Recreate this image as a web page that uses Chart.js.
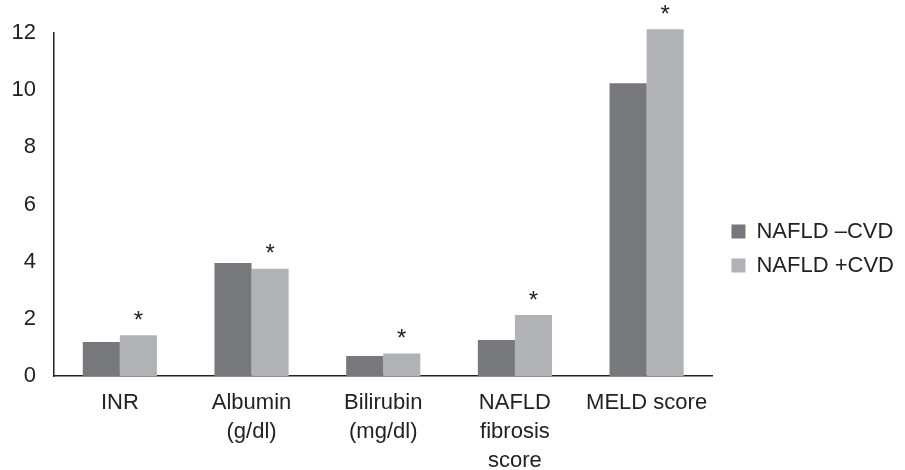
<!DOCTYPE html>
<html>
<head>
<meta charset="utf-8">
<script src="https://cdn.jsdelivr.net/npm/chart.js@4/dist/chart.umd.min.js"></script>
<style>
  html, body { margin: 0; padding: 0; background: #fff; }
  #wrap { width: 905px; height: 470px; position: relative; }
</style>
</head>
<body>
<div id="wrap"><canvas id="c" width="905" height="470"></canvas></div>
<script>
const categories = [['INR'], ['Albumin', '(g/dl)'], ['Bilirubin', '(mg/dl)'], ['NAFLD', 'fibrosis', 'score'], ['MELD score']];
const seriesNames = ['NAFLD \u2013CVD', 'NAFLD +CVD'];
const nafldNoCVD = [1.19, 3.95, 0.70, 1.26, 10.24];
const nafldCVD = [1.43, 3.75, 0.79, 2.13, 12.13];
const significant = [true, true, true, true, true];
const yTicks = [0, 2, 4, 6, 8, 10, 12];

const FONT = '"Liberation Sans", Arial, Helvetica, sans-serif';
const TEXT = '#222222';

const starPlugin = {
  id: 'stars',
  afterDatasetsDraw(chart) {
    const meta = chart.getDatasetMeta(1);
    const ctx = chart.ctx;
    ctx.save();
    ctx.fillStyle = TEXT;
    ctx.font = '24px ' + FONT;
    ctx.textAlign = 'center';
    ctx.textBaseline = 'middle';
    meta.data.forEach((bar, i) => {
      if (significant[i]) ctx.fillText('*', bar.x, bar.y - 14);
    });
    ctx.restore();
  }
};

// nudge the legend block slightly right/up after layout
const legendNudge = {
  id: 'legendNudge',
  afterLayout(chart) {
    const lg = chart.legend;
    if (!lg) return;
    lg.left += 7; lg.right += 7;
    lg.top -= 3; lg.bottom -= 3;
  }
};

new Chart(document.getElementById('c'), {
  type: 'bar',
  data: {
    labels: categories,
    datasets: [
      { label: seriesNames[0], data: nafldNoCVD, backgroundColor: '#77787b', borderWidth: 0, clip: false },
      { label: seriesNames[1], data: nafldCVD, backgroundColor: '#b1b2b5', borderWidth: 0, clip: false }
    ]
  },
  options: {
    responsive: false,
    animation: false,
    events: [],
    datasets: { bar: { categoryPercentage: 0.563, barPercentage: 1.0 } },
    layout: { padding: { top: 33, left: 0, right: 8, bottom: 0 } },
    scales: {
      x: {
        afterFit(scale) { scale.height = 94; },
        grid: { display: false, drawTicks: false },
        border: { display: true, color: TEXT, width: 1.5 },
        ticks: { color: TEXT, font: { family: FONT, size: 22, lineHeight: 1.3 }, padding: 13, maxRotation: 0, autoSkip: false }
      },
      y: {
        min: 0, max: 12,
        afterBuildTicks(scale) { scale.ticks = yTicks.map(v => ({ value: v })); },
        afterFit(scale) { scale.width = 54; },
        grid: { display: false, drawTicks: false },
        border: { display: true, color: TEXT, width: 1.5 },
        ticks: { color: TEXT, font: { family: FONT, size: 22 }, padding: 18 }
      }
    },
    plugins: {
      tooltip: { enabled: false },
      legend: {
        position: 'right',
        align: 'center',
        labels: {
          boxWidth: 14, boxHeight: 14,
          color: TEXT,
          font: { family: FONT, size: 22 },
          padding: 12
        }
      }
    }
  },
  plugins: [starPlugin, legendNudge]
});
</script>
</body>
</html>
